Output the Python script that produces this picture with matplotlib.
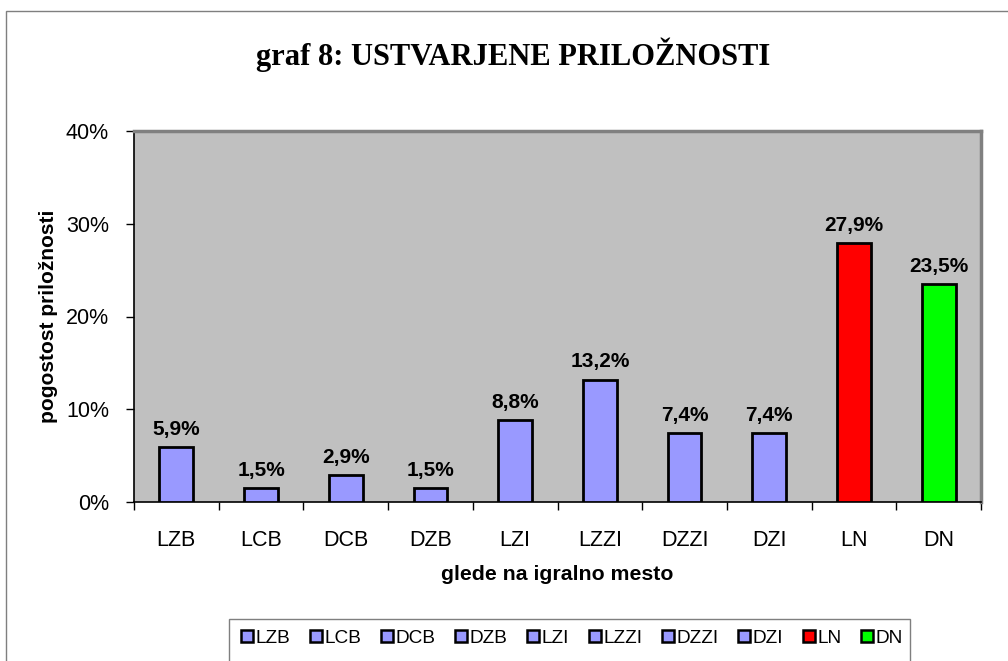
import matplotlib
matplotlib.use("Agg")
import matplotlib.pyplot as plt
from matplotlib.patches import Rectangle
from matplotlib.lines import Line2D
import numpy as np

categories = ["LZB", "LCB", "DCB", "DZB", "LZI", "LZZI", "DZZI", "DZI", "LN", "DN"]
values = [5.9, 1.5, 2.9, 1.5, 8.8, 13.2, 7.4, 7.4, 27.9, 23.5]
colors = ["#9999FF"] * 8 + ["#FF0000", "#00FF00"]
yticks = [0, 10, 20, 30, 40]

W, H = 1008, 661
fig = plt.figure(figsize=(W / 100, H / 100), dpi=100)
fig.patch.set_facecolor("white")

# outer chart frame
fig.add_artist(Rectangle((6 / W, -0.05), 1.1, (H - 11) / H + 0.05, transform=fig.transFigure,
                         fill=False, edgecolor="#7f7f7f", linewidth=1.0, clip_on=False))

left, right, top, bottom = 134, 981, 131, 502
ax = fig.add_axes([left / W, (H - bottom) / H, (right - left) / W, (bottom - top) / H])
ax.set_facecolor("#C0C0C0")

x = np.arange(len(categories))
bars = ax.bar(x, values, width=0.4, color=colors, edgecolor="black", linewidth=2, zorder=3)
for xi, v in zip(x, values):
    ax.text(xi, v + 0.9, f"{v:.1f}%".replace(".", ","), ha="center", va="bottom",
            fontsize=15, fontweight="bold", family="Liberation Sans")

ax.set_xlim(-0.5, len(categories) - 0.5)
ax.set_ylim(0, 40)
ax.set_yticks(yticks)
ax.set_yticklabels([f"{t}%" for t in yticks], fontsize=15.5, family="Liberation Sans")
ax.set_xticks(x)
ax.set_xticklabels(categories, fontsize=15.5, family="Liberation Sans")
ax.tick_params(axis="x", length=0, pad=20)
ax.set_xticks(np.arange(len(categories) + 1) - 0.5, minor=True)
ax.tick_params(axis="x", which="minor", length=6, width=1, direction="out")
ax.tick_params(axis="y", length=6, width=1, direction="out", pad=12)

for s in ["left", "bottom"]:
    ax.spines[s].set_color("black")
    ax.spines[s].set_linewidth(1.2)
for s in ["top", "right"]:
    ax.spines[s].set_color("#808080")
    ax.spines[s].set_linewidth(2.5)

ax.set_xlabel("glede na igralno mesto", fontsize=15.3, fontweight="bold",
              family="Liberation Sans", labelpad=10)
ax.set_ylabel("pogostost priložnosti", fontsize=15, fontweight="bold",
              family="Liberation Sans", labelpad=6)

fig.text(513 / W, 1 - 55 / H, "graf 8: USTVARJENE PRILOŽNOSTI", ha="center", va="center",
         fontsize=22, fontweight="bold", family="Liberation Serif")

# legend box
fig.add_artist(Rectangle((229 / W, -0.05), (910 - 229) / W, (H - 619) / H + 0.05,
                         transform=fig.transFigure, facecolor="white", edgecolor="#7f7f7f",
                         linewidth=1.0, clip_on=False))
handles = [Line2D([], [], linestyle="none", marker="s", markersize=9, markerfacecolor=c,
                  markeredgecolor="black", markeredgewidth=1.8) for c in colors]
fig.legend(handles, categories, loc="center", bbox_to_anchor=(572 / W, 1 - 638 / H),
           ncol=len(categories), frameon=False, handlelength=0.6, handletextpad=0.15,
           columnspacing=1.05, prop={"family": "Liberation Sans", "size": 13.7})

fig.savefig("out.png", dpi=100)
